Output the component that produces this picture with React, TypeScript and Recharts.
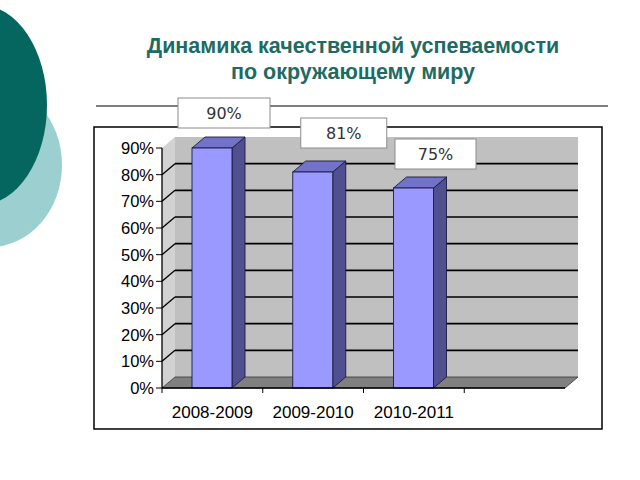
import React from 'react';
import {
  BarChart,
  Bar,
  XAxis,
  YAxis,
  CartesianGrid,
  ReferenceArea,
  LabelList
} from 'recharts';

// chart values
const years = ['2008-2009', '2009-2010', '2010-2011', ''];
const quality = [90, 81, 75, null];
const yTicks = [0, 10, 20, 30, 40, 50, 60, 70, 80, 90];

// label boxes were placed by hand on the slide
const boxNudge = [
  { dx: 12, dy: -35, w: 92 },
  { dx: 31, dy: -39, w: 86 },
  { dx: 22, dy: -34, w: 81 }
];

const chartData = years.map((year, i) => ({ year, value: quality[i] }));

const DX = 13;
const DY = 11;
const TEAL = '#1e6b63';

// back wall, side wall and floor of the 3D plot box
const Walls = (props: any) => {
  const { x, y, width, height } = props;
  const b = y + height;
  const r = x + width;
  return (
    <g>
      <polygon
        points={`${x},${b} ${x + DX},${b - DY} ${x + DX},${y - DY} ${x},${y}`}
        fill="#d2d2d2"
      />
      <rect x={x + DX} y={y - DY} width={width} height={height} fill="#c0c0c0" />
      <polygon
        points={`${x},${b} ${r},${b} ${r + DX},${b - DY} ${x + DX},${b - DY}`}
        fill="#808080"
        stroke="#333"
        strokeWidth={0.8}
      />
    </g>
  );
};

const GridLine = (props: any) => {
  const { x1, y1, x2 } = props;
  const top = props.y;
  const bottom = props.y != null && props.height != null ? props.y + props.height : null;
  if (top != null && Math.abs(y1 - top) < 1) return <g key={props.key} />;
  if (bottom != null && Math.abs(y1 - bottom) < 1) return <g key={props.key} />;
  return (
    <g key={props.key}>
      <line x1={x1} y1={y1} x2={x1 + DX} y2={y1 - DY} stroke="#000" strokeWidth={1.3} />
      <line x1={x1 + DX} y1={y1 - DY} x2={x2 + DX} y2={y1 - DY} stroke="#000" strokeWidth={1.6} />
    </g>
  );
};

const Bar3D = (props: any) => {
  const { x, y, width, height } = props;
  if (!height || height <= 0) return null;
  const r = x + width;
  const b = y + height;
  return (
    <g stroke="#1c1c40" strokeWidth={0.9}>
      <polygon
        points={`${r},${y} ${r + DX},${y - DY} ${r + DX},${b - DY} ${r},${b}`}
        fill="#505090"
      />
      <polygon
        points={`${x},${y} ${x + DX},${y - DY} ${r + DX},${y - DY} ${r},${y}`}
        fill="#7272c8"
      />
      <rect x={x} y={y} width={width} height={height} fill="#9999ff" />
    </g>
  );
};

const ValueBox = (props: any) => {
  const { index, value } = props;
  const vb = props.viewBox ?? props;
  if (value == null || !boxNudge[index]) return null;
  const n = boxNudge[index];
  const cx = vb.x + vb.width / 2 + n.dx;
  const cy = vb.y + n.dy;
  return (
    <g>
      <rect
        x={cx - n.w / 2}
        y={cy - 15}
        width={n.w}
        height={30}
        fill="#fff"
        stroke="#8c8c8c"
        strokeWidth={1}
      />
      <text
        x={cx}
        y={cy + 6}
        textAnchor="middle"
        fontFamily="DejaVu Sans"
        fontSize={16}
        fill="#333"
      >
        {value}%
      </text>
    </g>
  );
};

const YearTick = (props: any) => {
  const { x, y, payload } = props;
  const off = payload?.offset ?? 50;
  return (
    <g>
      <line x1={x - off} y1={y} x2={x - off} y2={y + 5} stroke="#000" strokeWidth={1} />
      <text
        x={x}
        y={y + 30}
        textAnchor="middle"
        fontFamily="Liberation Sans"
        fontSize={17}
        fill="#000"
      >
        {payload.value}
      </text>
    </g>
  );
};

const Slide = () => (
  <svg width={640} height={480} style={{ position: 'absolute', left: 0, top: 0 }}>
    <rect width={640} height={480} fill="#fff" />
    <ellipse cx={-10} cy={165} rx={72} ry={82} fill="#9ccfcf" />
    <ellipse cx={-20} cy={105} rx={67} ry={100} fill="#05665f" />
    <text
      x={353}
      y={53}
      textAnchor="middle"
      fontFamily="Liberation Sans"
      fontWeight="bold"
      fontSize={21.5}
      fill={TEAL}
    >
      Динамика качественной успеваемости
    </text>
    <text
      x={353}
      y={79}
      textAnchor="middle"
      fontFamily="Liberation Sans"
      fontWeight="bold"
      fontSize={21.5}
      fill={TEAL}
    >
      по окружающему миру
    </text>
    <line x1={96} y1={106} x2={608} y2={106} stroke="#555" strokeWidth={1.5} />
    <rect x={94} y={127} width={508} height={302} fill="#fff" stroke="#000" strokeWidth={1.5} />
  </svg>
);

export default function App() {
  return (
    <div style={{ position: 'absolute', left: 0, top: 0, width: 640, height: 480 }}>
      <Slide />
      <div style={{ position: 'absolute', left: 0, top: 0 }}>
        <BarChart
          width={640}
          height={480}
          data={chartData}
          margin={{ top: 148, right: 75, left: 102, bottom: 62 }}
          barSize={40}
        >
          <ReferenceArea y1={0} y2={90} shape={<Walls />} ifOverflow="visible" zIndex={-300} />
          <CartesianGrid vertical={false} horizontal={(p: any) => <GridLine {...p} />} />
          <XAxis
            dataKey="year"
            tick={<YearTick />}
            tickLine={false}
            tickSize={0}
            tickMargin={0}
            axisLine={{ stroke: '#000', strokeWidth: 1.3 }}
            interval={0}
          />
          <YAxis
            width={60}
            domain={[0, 90]}
            ticks={yTicks}
            tickFormatter={(v: number) => `${v}%`}
            tick={{ fontFamily: 'Liberation Sans', fontSize: 16.5, fill: '#000' }}
            tickLine={{ stroke: '#000' }}
            tickSize={6}
            axisLine={{ stroke: '#000', strokeWidth: 1.3 }}
            interval={0}
          />
          <Bar dataKey="value" shape={<Bar3D />} isAnimationActive={false}>
            <LabelList dataKey="value" content={<ValueBox />} />
          </Bar>
        </BarChart>
      </div>
    </div>
  );
}
